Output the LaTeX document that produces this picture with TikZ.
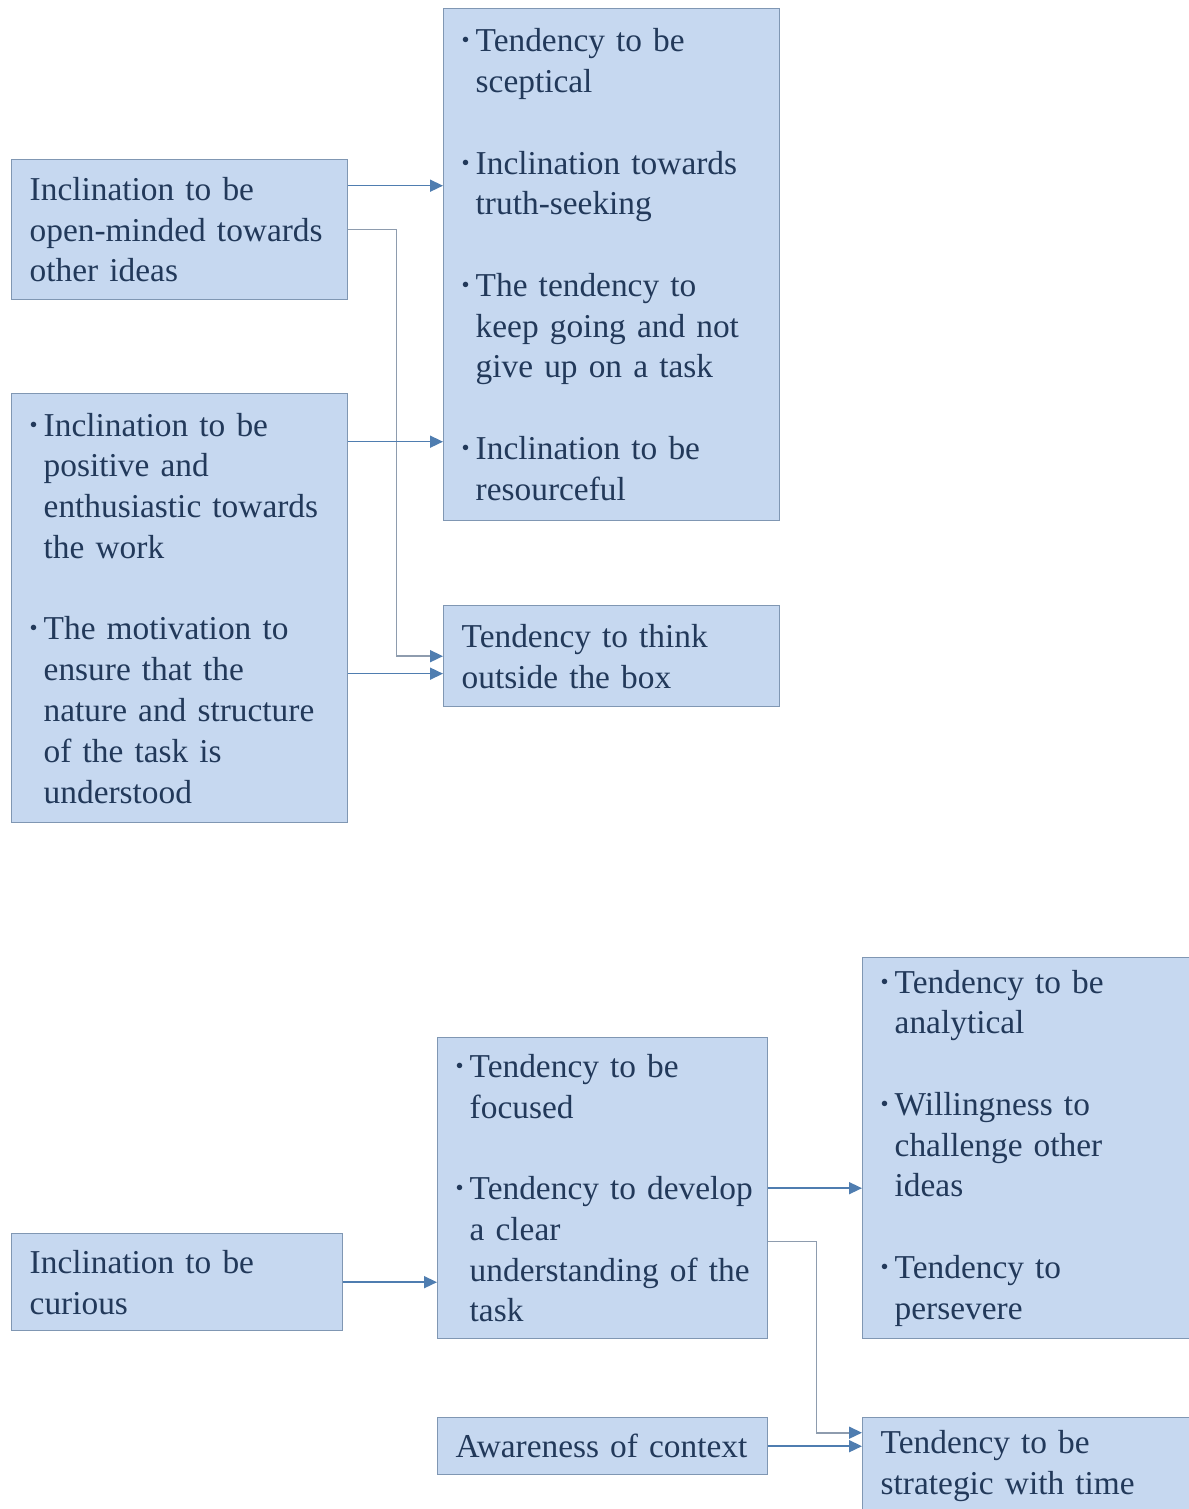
\documentclass[tikz,border=0pt]{standalone}
\usepackage{fontspec}
\setmainfont{Liberation Serif}
\usetikzlibrary{arrows.meta}
\definecolor{boxfill}{HTML}{C6D8F0}
\definecolor{boxline}{HTML}{8097B3}
\definecolor{boxtext}{HTML}{22395A}
\definecolor{linkblue}{HTML}{4F7DB0}
\definecolor{linkgray}{HTML}{8E9CAE}
\newcommand{\bitem}{\noindent\hangindent=0.28cm\hangafter=1\makebox[0.28cm][l]{\raisebox{0.12em}{\fontsize{13}{13}\selectfont\textbullet}}}
\newcommand{\gap}{\par\vspace{\baselineskip}}
\tikzset{
  box/.style={draw=boxline, line width=0.8pt, fill=boxfill, text=boxtext, anchor=north west,
    inner xsep=0pt, inner ysep=0pt, align=left, font=\fontsize{19}{23.2}\selectfont,
    execute at begin node={\leftskip=0.36cm}},
  link/.style={draw=linkblue, line width=0.9pt, -{Triangle[length=0.26cm,width=0.24cm]}},
  elbow/.style={link, draw=linkgray, -{Triangle[length=0.26cm,width=0.24cm,color=linkblue]}}
}

\begin{document}
\begin{tikzpicture}[x=0.02cm, y=-0.02cm]
\useasboundingbox (0,0) rectangle (1189,1509);
\node[box, text width=6.72cm, minimum width=6.72cm, minimum height=2.80cm] (open) at (11,159)
  {Inclination to be\\open-minded towards\\other ideas};
\node[box, text width=6.72cm, minimum width=6.72cm, minimum height=10.24cm] (sceptic) at (443,8)
  {\bitem Tendency to be\newline sceptical\gap
   \bitem Inclination towards\newline truth-seeking\gap
   \bitem The tendency to\newline keep going and not\newline give up on a task\gap
   \bitem Inclination to be\newline resourceful\par};
\node[box, text width=6.72cm, minimum width=6.72cm, minimum height=8.58cm] (positive) at (11,393)
  {\bitem Inclination to be\newline positive and\newline enthusiastic towards\newline the work\gap
   \bitem The motivation to\newline ensure that the\newline nature and structure\newline of the task is\newline understood\par};
\node[box, text width=6.72cm, minimum width=6.72cm, minimum height=2.02cm] (outside) at (443,605)
  {Tendency to think\\outside the box};
\node[box, text width=6.62cm, minimum width=6.62cm, minimum height=1.94cm] (curious) at (11,1233)
  {Inclination to be\\curious};
\node[box, text width=6.60cm, minimum width=6.60cm, minimum height=6.02cm] (focused) at (437,1037)
  {\bitem Tendency to be\newline focused\gap
   \bitem Tendency to develop\newline a clear\newline understanding of the\newline task\par};
\node[box, text width=6.54cm, minimum width=6.54cm, minimum height=7.62cm] (analytic) at (862,957)
  {\bitem Tendency to be\newline analytical\gap
   \bitem Willingness to\newline challenge other\newline ideas\gap
   \bitem Tendency to\newline persevere\par};
\node[box, text width=6.60cm, minimum width=6.60cm, minimum height=1.14cm] (context) at (437,1417)
  {Awareness of context};
\node[box, text width=6.54cm, minimum width=6.54cm, minimum height=1.92cm] (strategic) at (862,1417)
  {Tendency to be\\strategic with time};

\coordinate (o1) at ([yshift=0.88cm]open.east);
\coordinate (p1) at ([yshift=3.33cm]positive.east);
\coordinate (p2) at ([yshift=-1.31cm]positive.east);
\coordinate (f2) at ([yshift=-1.07cm]focused.east);
\coordinate (s1) at ([yshift=0.66cm]strategic.west);
\draw[link] (o1) -- (o1 -| sceptic.west);
\draw[elbow] (open.east) -- ++(48,0) |- (outside.west);
\draw[link] (p1) -- (p1 -| sceptic.west);
\draw[link] (p2) -- (p2 -| outside.west);
\draw[link] (curious.east) -- (curious.east -| focused.west);
\draw[link] (focused.east) -- (focused.east -| analytic.west);
\draw[elbow] (f2) -- ++(48,0) |- (s1);
\draw[link] (context.east) -- (context.east -| strategic.west);
\end{tikzpicture}
\end{document}
